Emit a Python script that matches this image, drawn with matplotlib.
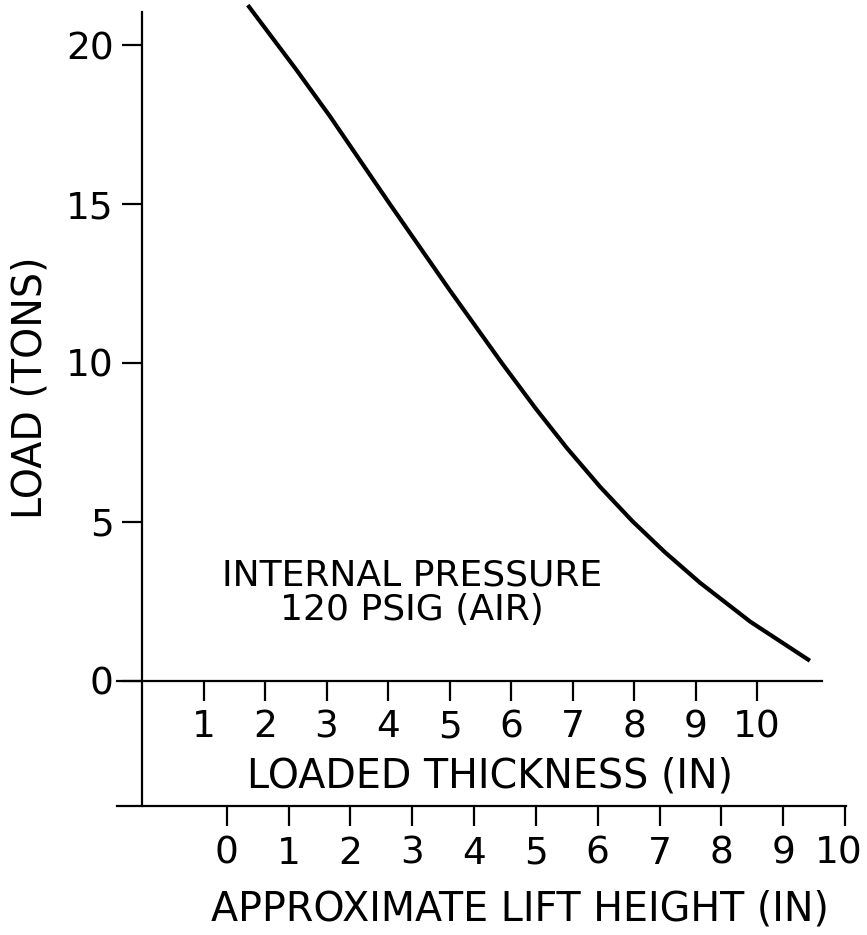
import numpy as np
import matplotlib
matplotlib.use("Agg")
import matplotlib.pyplot as plt
from matplotlib.transforms import ScaledTranslation

# curve: loaded thickness (in) vs load (tons)
thickness = [1.72, 2.5, 3.06, 4.03, 5.0, 5.85, 6.4, 6.91, 7.45, 7.97, 8.5, 9.07, 9.89, 10.86]
load = [21.26, 19.25, 17.75, 15.0, 12.3, 10.0, 8.57, 7.32, 6.1, 5.03, 4.05, 3.09, 1.86, 0.63]

load_ticks = [0, 5, 10, 15, 20]
thick_ticks = [1, 2, 3, 4, 5, 6, 7, 8, 9, 10]
lift_ticks = [0, 1, 2, 3, 4, 5, 6, 7, 8, 9, 10]

# lift height scale sits under the thickness scale, shifted
lift_offset = 1.38
lift_scale = 1.005

def t2lift(t):
    return (np.asarray(t) - lift_offset) / lift_scale

def lift2t(l):
    return np.asarray(l) * lift_scale + lift_offset

plt.rcParams['font.family'] = ['DejaVu Sans']
fs = 28.5
tfs = 27

fig = plt.figure(figsize=(8.67, 9.35), dpi=100)
ax = fig.add_axes([117/867, 129/935, 729/867, 806/935])

ax.plot(thickness, load, color='black', linewidth=3.0, solid_capstyle='butt')

ax.set_xlim(-25/61.5, 704/61.5)
ax.set_ylim(-3.94, 21.42)

for s in ['top', 'right']:
    ax.spines[s].set_visible(False)
ax.spines['left'].set_position(('data', 0))
ax.spines['left'].set_bounds(-3.94, 21.05)
ax.spines['bottom'].set_position(('data', 0))
ax.spines['bottom'].set_bounds(-25/61.5, 11.06)
for s in ['left', 'bottom']:
    ax.spines[s].set_linewidth(1.6)

ax.set_yticks(load_ticks)
ax.set_yticklabels([str(v) for v in load_ticks])
ax.set_xticks(thick_ticks)
ax.set_xticklabels([str(v) for v in thick_ticks])
ax.tick_params(axis='both', length=14.5, width=1.6, labelsize=tfs, pad=6)

ax.set_ylabel('LOAD (TONS)', fontsize=fs)
ax.yaxis.set_label_coords(-0.119, 0.519)
ax.yaxis.label.set_va('center')

ax.set_xlabel('LOADED THICKNESS (IN)', fontsize=fs)
ax.xaxis.set_label_coords(0.512, 0.037)
ax.xaxis.label.set_va('center')

lift = ax.secondary_xaxis(0, functions=(t2lift, lift2t))
lift.spines['bottom'].set_linewidth(1.6)
lift.set_xticks(lift_ticks)
lift.set_xticklabels([str(v) for v in lift_ticks])
lift.tick_params(length=14.5, width=1.6, labelsize=tfs, pad=7)
# keep the last label inside the picture
last = lift.get_xticklabels()[-1]
last.set_transform(last.get_transform() + ScaledTranslation(-6/100, 0, fig.dpi_scale_trans))

ax.text(0.553, -0.129, 'APPROXIMATE LIFT HEIGHT (IN)', fontsize=fs,
        ha='center', va='center', transform=ax.transAxes)

ax.text(4.39, 2.77, 'INTERNAL PRESSURE\n120 PSIG (AIR)', fontsize=26,
        ha='center', va='center', linespacing=1.0)

fig.savefig('out.png', dpi=100, facecolor='white')
